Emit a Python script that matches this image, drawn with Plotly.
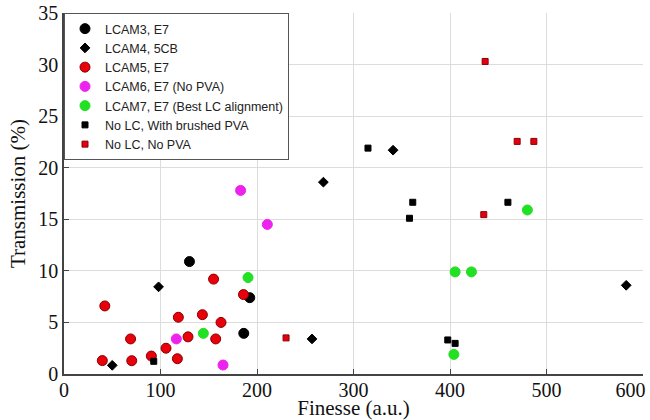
import plotly.graph_objects as go

# ---- data ----
lcam3_x = [130, 192.5, 186.3]
lcam3_y = [10.9, 7.4, 3.94]

lcam4_x = [50, 98, 257, 268.8, 341, 582.6]
lcam4_y = [0.84, 8.45, 3.4, 18.6, 21.7, 8.6]

lcam5_x = [39.7, 42.3, 69, 70.2, 90.5, 105.7, 117.5, 118.5, 128.5, 143.4, 155, 157.2, 162.7, 186]
lcam5_y = [1.3, 6.6, 3.4, 1.29, 1.74, 2.5, 1.48, 5.5, 3.6, 5.75, 9.2, 3.4, 5.0, 7.7]

lcam6_x = [116.4, 164.8, 183, 210.7]
lcam6_y = [3.4, 0.87, 17.8, 14.5]

lcam7_x = [144.4, 190.7, 404, 405.3, 422.2, 480.2]
lcam7_y = [3.94, 9.35, 1.9, 9.9, 9.9, 15.9]

pva_x = [93, 315, 358, 361.4, 397.7, 405.3, 460]
pva_y = [1.23, 21.9, 15.1, 16.65, 3.3, 2.97, 16.65]

nopva_x = [230.1, 435, 436.4, 469.6, 486.9]
nopva_y = [3.5, 15.45, 30.3, 22.55, 22.55]

names = [
    "LCAM3, E7",
    "LCAM4, 5CB",
    "LCAM5, E7",
    "LCAM6, E7 (No PVA)",
    "LCAM7, E7 (Best LC alignment)",
    "No LC, With brushed PVA",
    "No LC, No PVA",
]

x_ticks = [0, 100, 200, 300, 400, 500, 600]
y_ticks = [0, 5, 10, 15, 20, 25, 30, 35]

# ---- styling ----
series = [
    (lcam3_x, lcam3_y, dict(symbol="circle", size=10, color="#000000", line=dict(color="#000000", width=1))),
    (lcam4_x, lcam4_y, dict(symbol="diamond", size=7.5, color="#000000", line=dict(color="#000000", width=1))),
    (lcam5_x, lcam5_y, dict(symbol="circle", size=10, color="#e8000b", line=dict(color="#8a0000", width=1))),
    (lcam6_x, lcam6_y, dict(symbol="circle", size=10, color="#ee22ee", line=dict(color="#ee22ee", width=1))),
    (lcam7_x, lcam7_y, dict(symbol="circle", size=10, color="#22e022", line=dict(color="#22e022", width=1))),
    (pva_x, pva_y, dict(symbol="square", size=6, color="#000000", line=dict(color="#000000", width=1))),
    (nopva_x, nopva_y, dict(symbol="square", size=6, color="#e00010", line=dict(color="#900000", width=1))),
]

fig = go.Figure()
for (xs, ys, mk), nm in zip(series, names):
    fig.add_trace(go.Scatter(x=xs, y=ys, mode="markers", name=nm, marker=mk))

serif = "Liberation Serif, Times New Roman, serif"

# last x tick label sits a little left of its tick in the reference (padded with spaces)
x_ticktext = [str(v) for v in x_ticks]
x_ticktext[-1] = x_ticktext[-1] + "\u00a0" * 5

fig.update_layout(
    width=650,
    height=420,
    margin=dict(l=64, r=7, t=13, b=46, autoexpand=False),
    paper_bgcolor="white",
    plot_bgcolor="white",
    showlegend=True,
    legend=dict(
        x=0, y=1, xanchor="left", yanchor="top",
        bgcolor="white",
        bordercolor="#555555",
        borderwidth=1,
        font=dict(family="Liberation Sans, Arial, sans-serif", size=12.5, color="#222222"),
        tracegroupgap=0,
        itemsizing="trace",
        itemwidth=30,
    ),
)

fig.update_xaxes(
    range=[0, 600],
    tickvals=x_ticks,
    ticktext=x_ticktext,
    automargin=False,
    ticklabeloverflow="allow",
    ticklabelstandoff=-3,
    showgrid=True,
    gridcolor="#dcdcdc",
    gridwidth=1,
    zeroline=False,
    showline=True,
    linecolor="#444444",
    linewidth=1.5,
    ticks="inside",
    ticklen=5,
    tickcolor="#444444",
    tickfont=dict(family=serif, size=20, color="#111111"),
    title=dict(text="Finesse (a.u.)", font=dict(family=serif, size=21, color="#111111"), standoff=2),
)

fig.update_yaxes(
    range=[0, 35],
    tickvals=y_ticks,
    ticktext=[str(v) for v in y_ticks],
    automargin=False,
    showgrid=True,
    gridcolor="#dcdcdc",
    gridwidth=1,
    zeroline=False,
    showline=True,
    linecolor="#444444",
    linewidth=1.5,
    ticks="inside",
    ticklen=5,
    tickcolor="#444444",
    tickfont=dict(family=serif, size=20, color="#111111"),
    title=dict(text="Transmission (%)", font=dict(family=serif, size=21, color="#111111"), standoff=7),
)

fig.write_html(
    "out.html",
    config={"displayModeBar": False},
    post_script="document.body.style.margin='0';document.body.style.overflow='hidden';",
)
